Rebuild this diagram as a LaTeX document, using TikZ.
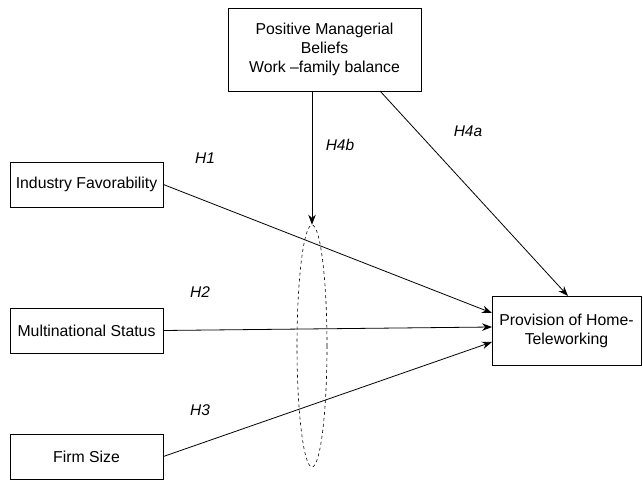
\documentclass[tikz,border=0pt]{standalone}
\usepackage{fontspec}
\setmainfont{Liberation Sans}
\usetikzlibrary{arrows.meta,shapes.geometric}
\begin{document}
\begin{tikzpicture}[x=1pt,y=-1pt,
  box/.style={draw,line width=0.8pt,inner sep=0pt,font=\fontsize{15.8}{19}\selectfont,align=center},
  conn/.style={line width=0.8pt,-{Stealth[length=10pt,width=7.5pt]}},
  hlab/.style={font=\fontsize{15.5}{18}\selectfont\itshape}]
\useasboundingbox (0,0) rectangle (643,481);
\node[box,minimum width=193pt,minimum height=83pt] (pmb) at (324.5,49.5) {Positive Managerial\\Beliefs\\Work –family balance};
\node[box,minimum width=153pt,minimum height=45pt] (ind) at (86.5,184.5) {Industry Favorability};
\node[box,minimum width=153pt,minimum height=45pt] (mns) at (86.5,330.5) {Multinational Status};
\node[box,minimum width=153pt,minimum height=45pt] (fs) at (86.5,456.5) {Firm Size};
\node[box,minimum width=149pt,minimum height=69pt] (pht) at (566.5,330.5) {Provision of Home-\\Teleworking};
\node[draw,dashed,line width=0.6pt,ellipse,minimum width=30pt,minimum height=242pt,inner sep=0pt] (ell) at (312,346) {};
\coordinate (e1) at (492,313);
\coordinate (e2) at (492,327);
\coordinate (e3) at (492,342);
\draw[conn] (ind.east) -- (e1);
\draw[conn] (mns.east) -- (e2);
\draw[conn] (fs.east) -- (e3);
\draw[conn] (pmb.south -| ell.north) -- (ell.north);
\coordinate (a4) at (380,91);
\coordinate (b4) at (568,296);
\draw[conn] (a4) -- (b4);
\node[hlab] (h1) at (205,158) {H1};
\node[hlab] (h2) at (200,292) {H2};
\node[hlab] (h3) at (200,410) {H3};
\node[hlab] (h4b) at (340,145) {H4b};
\node[hlab] (h4a) at (468,131) {H4a};
\end{tikzpicture}
\end{document}
